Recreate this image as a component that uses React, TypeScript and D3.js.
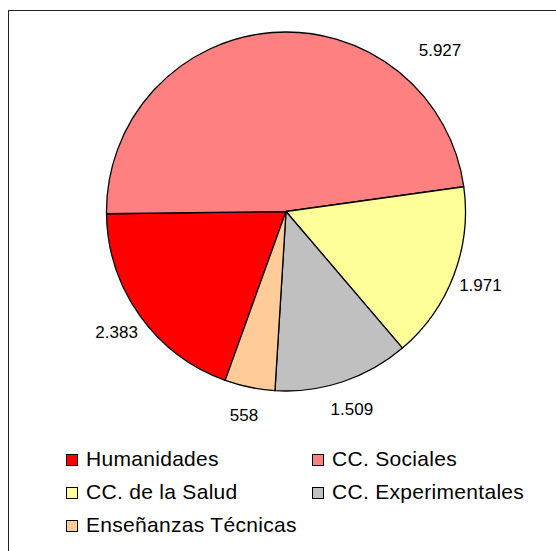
import React, { useRef, useEffect } from "react";
import * as d3 from "d3";

// chart data
const categories = ["Humanidades", "CC. Sociales", "CC. de la Salud", "CC. Experimentales", "Enseñanzas Técnicas"];
const values = [2383, 5927, 1971, 1509, 558];
const valueLabels = ["2.383", "5.927", "1.971", "1.509", "558"];
const colors = ["#FF0000", "#FF8080", "#FFFF99", "#C0C0C0", "#FFCC99"];

const Chart = () => {
    const svgRef = useRef<SVGSVGElement>(null);

    useEffect(() => {
        const w = 556;
        const h = 551;
        const cx = 286;
        const cy = 211.5;
        const r = 179.5;
        const font = "'Liberation Sans', Arial, sans-serif";

        const svg = d3.select(svgRef.current)
            .attr("width", w)
            .attr("height", h)
            .style("background", "#fff");
        svg.selectAll("*").remove();

        // outer frame (right and bottom edges fall off the picture)
        svg.append("rect")
            .attr("x", 8.5)
            .attr("y", 10.5)
            .attr("width", w + 20)
            .attr("height", h + 20)
            .attr("fill", "none")
            .attr("stroke", "#222")
            .attr("stroke-width", 1);

        // first slice starts at ~200deg (clockwise from 12 o'clock), like the excel chart
        const start = (199.8 * Math.PI) / 180;
        const pie = d3.pie<number>()
            .sort(null)
            .value(d => d)
            .startAngle(start)
            .endAngle(start + 2 * Math.PI);
        const arcs = pie(values);

        const arc = d3.arc<d3.PieArcDatum<number>>()
            .innerRadius(0)
            .outerRadius(r);

        const g = svg.append("g").attr("transform", `translate(${cx},${cy})`);

        g.selectAll("path")
            .data(arcs)
            .join("path")
            .attr("d", arc)
            .attr("fill", (d, i) => colors[i])
            .attr("stroke", "#000")
            .attr("stroke-width", 1.3)
            .attr("stroke-linejoin", "round");

        // value labels outside the slices; the big one was moved up to the top right
        const labelR = 208;
        g.selectAll("text.val")
            .data(arcs)
            .join("text")
            .attr("class", "val")
            .attr("x", (d, i) => {
                let a = (d.startAngle + d.endAngle) / 2;
                if (categories[i] === "CC. Sociales") a += (48 * Math.PI) / 180;
                return Math.sin(a) * (categories[i] === "CC. Sociales" ? 223 : labelR);
            })
            .attr("y", (d, i) => {
                let a = (d.startAngle + d.endAngle) / 2;
                if (categories[i] === "CC. Sociales") a += (48 * Math.PI) / 180;
                return -Math.cos(a) * (categories[i] === "CC. Sociales" ? 223 : labelR);
            })
            .attr("dy", "0.35em")
            .attr("text-anchor", "middle")
            .style("font-family", font)
            .style("font-size", "17px")
            .attr("fill", "#000")
            .text((d, i) => valueLabels[i]);

        // legend: two columns, three rows
        const colX = d3.scalePoint<number>().domain([0, 1]).range([66, 312]);
        const rowY = d3.scaleLinear().domain([0, 1]).range([466, 499]);

        const items = svg.append("g")
            .selectAll("g")
            .data(categories)
            .join("g")
            .attr("transform", (d, i) => `translate(${colX(i % 2)},${rowY(Math.floor(i / 2))})`);

        items.append("rect")
            .attr("x", 0.5)
            .attr("y", -11.5)
            .attr("width", 11)
            .attr("height", 11)
            .attr("fill", (d, i) => colors[i])
            .attr("stroke", "#000")
            .attr("stroke-width", 1);

        items.append("text")
            .attr("x", 20)
            .attr("y", 0)
            .style("font-family", font)
            .style("font-size", "21px")
            .style("letter-spacing", "0.3px")
            .attr("fill", "#000")
            .text(d => d);
    }, []);

    return (
        <svg ref={svgRef} style={{ position: "absolute", left: 0, top: 0, display: "block" }}></svg>
    );
};

export default function App() {
    return <Chart />;
}
